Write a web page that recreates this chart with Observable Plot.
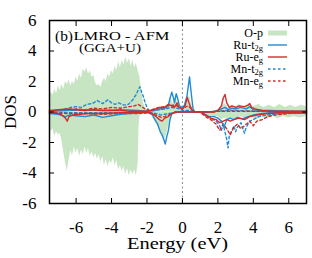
<!DOCTYPE html>
<html><head><meta charset="utf-8">
<script src="https://cdn.jsdelivr.net/npm/d3@7"></script>
<script src="https://cdn.jsdelivr.net/npm/@observablehq/plot@0.6"></script>
<style>body{margin:0;background:#fff}#chart{width:312px;height:258px}</style>
</head><body><div id="chart"></div>
<script>
const xTicks = [-6, -4, -2, 0, 2, 4, 6];
const yTicks = [-6, -4, -2, 0, 2, 4, 6];
const title1 = "(b)";
const title2 = "LMRO - AFM";
const title3 = "(GGA+U)";
const xLabel = "Energy (eV)";
const yLabel = "DOS";
const legendItems = [
  {base: "O-p", sub: ""},
  {base: "Ru-t", sub: "2g"},
  {base: "Ru-e", sub: "g"},
  {base: "Mn-t", sub: "2g"},
  {base: "Mn-e", sub: "g"}
];

const opUp = [[-7.5,1.0],[-7.4,1.3],[-7.3,1.1],[-7.2,1.5],[-7.1,1.2],[-7.0,1.7],[-6.9,1.4],[-6.8,1.8],[-6.7,1.5],[-6.6,2.0],[-6.5,1.8],[-6.4,2.1],[-6.3,1.7],[-6.2,2.0],[-6.1,1.8],[-6.0,2.3],[-5.9,2.0],[-5.8,2.5],[-5.7,2.2],[-5.6,2.8],[-5.5,2.6],[-5.4,2.9],[-5.3,2.5],[-5.2,2.7],[-5.1,2.3],[-5.0,2.4],[-4.9,1.9],[-4.8,1.7],[-4.7,1.8],[-4.6,1.6],[-4.5,2.0],[-4.4,2.2],[-4.3,2.0],[-4.2,2.5],[-4.1,2.3],[-4.0,2.7],[-3.9,2.5],[-3.8,3.0],[-3.7,2.7],[-3.6,3.3],[-3.5,2.9],[-3.4,3.4],[-3.3,3.1],[-3.2,3.6],[-3.1,3.2],[-3.0,3.5],[-2.9,3.0],[-2.8,3.4],[-2.7,2.9],[-2.6,3.2],[-2.5,2.7],[-2.4,2.3],[-2.3,1.4],[-2.2,0.6],[-2.1,0.25],[-2.0,0.1],[-1.8,0.1],[-1.5,0.2],[-1.2,0.3],[-1.0,0.35],[-0.8,0.5],[-0.65,0.9],[-0.5,0.5],[-0.35,0.9],[-0.2,0.3],[0.0,0.25],[0.2,0.5],[0.4,1.1],[0.55,0.3],[0.7,0.05],[1.0,0],[1.5,0],[1.8,0.05],[2.0,0.15],[2.2,0.35],[2.4,0.55],[2.6,0.3],[2.8,0.45],[3.0,0.3],[3.2,0.5],[3.5,0.3],[3.8,0.55],[4.0,0.35],[4.3,0.5],[4.6,0.3],[4.9,0.45],[5.2,0.3],[5.5,0.5],[5.8,0.3],[6.1,0.45],[6.4,0.3],[6.7,0.45],[7.0,0.35]];
const opDown = [[-7.5,-0.9],[-7.4,-1.3],[-7.3,-1.1],[-7.2,-1.6],[-7.1,-1.3],[-7.0,-1.5],[-6.9,-1.4],[-6.8,-1.9],[-6.7,-2.6],[-6.6,-3.3],[-6.5,-3.9],[-6.4,-3.2],[-6.3,-2.5],[-6.2,-2.9],[-6.1,-2.3],[-6.0,-2.7],[-5.9,-2.4],[-5.8,-2.9],[-5.7,-2.5],[-5.6,-2.8],[-5.5,-2.3],[-5.4,-2.7],[-5.3,-2.4],[-5.2,-2.9],[-5.1,-2.6],[-5.0,-3.0],[-4.9,-2.7],[-4.8,-3.1],[-4.7,-2.8],[-4.6,-3.3],[-4.5,-2.9],[-4.4,-3.5],[-4.3,-3.1],[-4.2,-3.6],[-4.1,-3.2],[-4.0,-3.4],[-3.9,-3.0],[-3.8,-3.5],[-3.7,-3.2],[-3.6,-3.8],[-3.5,-3.5],[-3.4,-3.9],[-3.3,-3.6],[-3.2,-4.1],[-3.1,-3.7],[-3.0,-4.2],[-2.9,-3.8],[-2.8,-4.1],[-2.7,-3.8],[-2.6,-4.2],[-2.5,-3.4],[-2.45,-1.0],[-2.4,-0.3],[-2.2,-0.1],[-2.0,-0.05],[-1.8,-0.1],[-1.6,-0.5],[-1.4,-0.9],[-1.2,-1.3],[-1.0,-1.8],[-0.9,-1.5],[-0.8,-1.0],[-0.6,-0.3],[-0.4,-0.1],[0,0],[1.0,0],[1.3,-0.2],[1.6,-0.3],[2.0,-0.3],[2.2,-0.5],[2.4,-0.4],[2.6,-0.6],[2.8,-0.4],[3.0,-0.5],[3.3,-0.3],[3.6,-0.5],[3.9,-0.3],[4.2,-0.5],[4.5,-0.3],[4.8,-0.45],[5.1,-0.3],[5.4,-0.45],[5.7,-0.3],[6.0,-0.4],[6.3,-0.3],[6.6,-0.4],[7.0,-0.3]];

const ruT2gUp = [[-7.5,0.05],[-6.5,0.1],[-5.5,0.15],[-4.5,0.1],[-3.5,0.15],[-2.5,0.1],[-2.0,0.05],[-1.6,0.1],[-1.3,0.2],[-1.0,0.25],[-0.8,0.4],[-0.7,0.9],[-0.6,1.3],[-0.5,0.9],[-0.45,0.6],[-0.35,1.2],[-0.25,0.8],[-0.17,0.4],[-0.05,0.3],[0.1,0.4],[0.25,1.0],[0.4,2.3],[0.5,1.2],[0.6,0.2],[0.7,0.0],[1.0,0.0],[1.5,0.0],[1.8,0.05],[2.0,0.1],[2.2,0.2],[2.4,0.3],[2.6,0.15],[2.8,0.25],[3.0,0.2],[3.3,0.3],[3.6,0.2],[3.8,0.35],[4.0,0.15],[4.5,0.1],[5,0.1],[6,0.05],[7,0.05]];
const ruT2gDown = [[-7.5,-0.1],[-7.0,-0.15],[-6.6,-0.3],[-6.4,-0.2],[-6.0,-0.25],[-5.5,-0.3],[-5.0,-0.2],[-4.5,-0.35],[-4.0,-0.25],[-3.5,-0.15],[-3.0,-0.1],[-2.5,-0.05],[-2.0,-0.02],[-1.75,-0.05],[-1.6,-0.4],[-1.4,-0.8],[-1.25,-1.3],[-1.15,-1.5],[-1.05,-1.8],[-0.97,-2.1],[-0.88,-1.6],[-0.8,-1.25],[-0.7,-0.5],[-0.6,-0.1],[-0.4,0],[0,0],[1.0,0],[1.2,-0.1],[1.5,-0.3],[1.8,-0.3],[2.0,-0.4],[2.2,-0.6],[2.35,-1.0],[2.5,-0.5],[2.7,-0.4],[2.9,-0.5],[3.1,-0.35],[3.4,-0.45],[3.7,-0.3],[4.0,-0.2],[4.5,-0.1],[5,-0.05],[6,-0.05],[7,-0.05]];
const ruEgUp = [[-7.5,0.1],[-7.0,0.15],[-6.5,0.2],[-6.0,0.15],[-5.5,0.1],[-5.0,0.15],[-4.5,0.1],[-4.0,0.1],[-3.5,0.1],[-3.0,0.05],[-2.5,0.05],[-2.0,0.05],[-1.6,0.15],[-1.3,0.3],[-1.0,0.3],[-0.8,0.5],[-0.6,0.4],[-0.45,0.3],[-0.3,0.6],[-0.2,0.3],[0,0.2],[0.15,0.4],[0.27,0.95],[0.4,0.5],[0.55,0.1],[0.7,0],[1.8,0],[2.0,0.1],[2.2,0.4],[2.3,0.9],[2.4,1.15],[2.5,0.6],[2.65,0.3],[2.8,0.4],[3.0,0.3],[3.2,0.4],[3.5,0.35],[3.7,0.45],[3.8,0.55],[3.9,0.3],[4.1,0.2],[4.5,0.1],[5,0.05],[6,0.05],[7,0.05]];
const ruEgDown = [[-7.5,-0.05],[-7.0,-0.1],[-6.8,-0.2],[-6.6,-0.4],[-6.5,-0.6],[-6.4,-0.3],[-6.2,-0.2],[-5.8,-0.15],[-5.3,-0.1],[-4.5,-0.1],[-3.5,-0.05],[-2.5,-0.05],[-2.0,-0.02],[-1.7,-0.1],[-1.5,-0.3],[-1.3,-0.5],[-1.15,-0.6],[-1.0,-0.4],[-0.8,-0.3],[-0.6,-0.1],[-0.4,0],[1.0,0],[1.3,-0.2],[1.6,-0.4],[1.9,-0.5],[2.1,-0.7],[2.3,-0.6],[2.5,-0.5],[2.7,-0.6],[2.9,-0.5],[3.2,-0.4],[3.5,-0.5],[3.8,-0.3],[4.2,-0.2],[4.8,-0.1],[5.5,-0.05],[7,-0.05]];
const mnT2gUp = [[-7.5,0.05],[-7.0,0.1],[-6.6,0.2],[-6.3,0.3],[-6.0,0.35],[-5.7,0.3],[-5.4,0.5],[-5.1,0.55],[-4.8,0.75],[-4.5,0.55],[-4.2,0.8],[-4.0,0.6],[-3.8,0.5],[-3.6,0.6],[-3.3,0.45],[-3.05,0.5],[-2.8,0.8],[-2.7,1.0],[-2.6,1.15],[-2.5,1.45],[-2.4,1.65],[-2.3,1.3],[-2.2,1.0],[-2.1,0.6],[-2.0,0.3],[-1.9,0.1],[-1.6,0.1],[-1.3,0.15],[-1.0,0.2],[-0.6,0.3],[-0.3,0.25],[0,0.1],[0.4,0.1],[0.7,0],[1.5,0],[2.0,0.05],[2.5,0.1],[3.0,0.1],[4,0.05],[5,0.05],[7,0.02]];
const mnT2gDown = [[-7.5,-0.02],[-6,-0.05],[-4,-0.05],[-2.5,-0.05],[-2.0,-0.02],[-1.5,-0.1],[-1.2,-0.2],[-1.0,-0.15],[-0.5,-0.05],[0,0],[1.0,0],[1.3,-0.2],[1.6,-0.4],[1.9,-0.6],[2.1,-0.9],[2.2,-1.2],[2.3,-0.8],[2.4,-1.3],[2.5,-1.8],[2.57,-2.35],[2.65,-1.5],[2.8,-1.2],[2.9,-0.9],[3.0,-1.3],[3.1,-1.0],[3.3,-0.7],[3.5,-1.4],[3.6,-1.0],[3.8,-0.6],[4.0,-0.5],[4.3,-0.3],[4.8,-0.2],[5.5,-0.1],[7,-0.05]];
const mnEgUp = [[-7.5,0.05],[-7.0,0.1],[-6.5,0.15],[-6.0,0.2],[-5.5,0.15],[-5.0,0.25],[-4.5,0.2],[-4.0,0.3],[-3.5,0.25],[-3.0,0.35],[-2.7,0.4],[-2.5,0.5],[-2.3,0.35],[-2.1,0.2],[-1.9,0.1],[-1.6,0.2],[-1.3,0.3],[-1.0,0.35],[-0.8,0.4],[-0.5,0.45],[-0.3,0.4],[0,0.2],[0.3,0.4],[0.5,0.2],[0.7,0],[1.5,0],[2,0.05],[3,0.05],[4,0.05],[7,0.02]];
const mnEgDown = [[-7.5,-0.05],[-6.5,-0.1],[-5.5,-0.1],[-4.5,-0.15],[-3.5,-0.1],[-2.5,-0.1],[-2.0,-0.05],[-1.5,-0.2],[-1.2,-0.35],[-1.0,-0.3],[-0.7,-0.15],[-0.4,0],[1.0,0],[1.3,-0.3],[1.6,-0.5],[1.9,-0.8],[2.1,-1.2],[2.3,-0.8],[2.5,-1.1],[2.7,-1.5],[2.9,-1.0],[3.1,-0.8],[3.3,-1.1],[3.6,-0.8],[3.8,-0.6],[4.0,-0.9],[4.2,-0.6],[4.5,-0.5],[4.8,-0.3],[5.2,-0.2],[6,-0.1],[7,-0.05]];

const GREEN = "#c8e5c3", BLUE = "#1f8bd6", RED = "#d62a2a";
const rows = a => a.map(([e, d]) => ({e, d}));
const lineOpts = (stroke, dashed) => ({x: "e", y: "d", stroke, strokeWidth: 1.4, strokeDasharray: dashed ? "2.5,2.5" : null});
const FF = "'Liberation Serif', 'Times New Roman', serif";

const plot = Plot.plot({
  width: 312, height: 258,
  marginLeft: 49, marginRight: 6, marginTop: 20, marginBottom: 55,
  style: {fontFamily: FF, fontSize: "17px", color: "black", background: "white"},
  x: {domain: [-7.5, 7]},
  y: {domain: [-6, 6]},
  marks: [
    Plot.areaY(rows(opUp), {x: "e", y: "d", fill: GREEN}),
    Plot.areaY(rows(opDown), {x: "e", y: "d", fill: GREEN}),
    Plot.ruleX([0], {stroke: "#888", strokeWidth: 1, strokeDasharray: "2,2.5"}),
    Plot.line(rows(mnT2gUp), lineOpts(BLUE, true)),
    Plot.line(rows(mnT2gDown), lineOpts(BLUE, true)),
    Plot.line(rows(mnEgUp), lineOpts(RED, true)),
    Plot.line(rows(mnEgDown), lineOpts(RED, true)),
    Plot.line(rows(ruT2gUp), lineOpts(BLUE, false)),
    Plot.line(rows(ruT2gDown), lineOpts(BLUE, false)),
    Plot.line(rows(ruEgUp), lineOpts(RED, false)),
    Plot.line(rows(ruEgDown), lineOpts(RED, false)),
    Plot.axisX({anchor: "bottom", ticks: xTicks, tickSize: -5, tickPadding: 22, label: null, tickFormat: d => String(d), fontSize: 17}),
    Plot.axisX({anchor: "top", ticks: xTicks, tickSize: -5, label: null, tickFormat: () => ""}),
    Plot.axisY({anchor: "left", ticks: yTicks, tickSize: -5, tickPadding: 18, label: null, tickFormat: d => String(d), fontSize: 17}),
    Plot.axisY({anchor: "right", ticks: yTicks, tickSize: -5, label: null, tickFormat: () => ""}),
    Plot.frame({stroke: "black", strokeWidth: 1.5})
  ]
});
document.getElementById("chart").appendChild(plot);

const svg = d3.select(plot);
// text placed at (x, y) baseline, stretched horizontally to the target width
function stretchedText(str, x, y, size, anchor, targetWidth) {
  const t = svg.append("text").attr("text-anchor", anchor).attr("font-family", FF)
    .attr("font-size", size).text(str);
  const w = t.node().getComputedTextLength();
  const sx = targetWidth && w > 0 ? targetWidth / w : 1;
  t.attr("transform", `translate(${x},${y}) scale(${sx},1)`);
  return t;
}
svg.append("text").attr("transform", "translate(12,112) rotate(-90)").attr("text-anchor", "middle")
  .attr("dominant-baseline", "middle").attr("font-family", FF).attr("font-size", 17).text(yLabel);
stretchedText(xLabel, 177.5, 248.5, 16, "middle", 101);
stretchedText(title1, 55, 40.5, 15, "start", 18);
stretchedText(title2, 73.5, 40, 13.5, "start", 96);
stretchedText(title3, 79, 51.5, 13, "start", 62);

const legendStyles = [
  {type: "area", color: GREEN},
  {type: "line", color: BLUE, dash: null},
  {type: "line", color: RED, dash: null},
  {type: "line", color: BLUE, dash: "2.5,2.5"},
  {type: "line", color: RED, dash: "2.5,2.5"}
];
legendItems.forEach((it, i) => {
  const cy = 33 + i * 12;
  const t = svg.append("text").attr("x", 263).attr("y", cy + 3.5).attr("text-anchor", "end")
    .attr("font-family", FF).attr("font-size", 12);
  t.append("tspan").text(it.base);
  if (it.sub) t.append("tspan").attr("dy", 2.5).attr("font-size", 8.5).text(it.sub);
  const s = legendStyles[i];
  if (s.type === "area") {
    svg.append("rect").attr("x", 268).attr("y", cy - 2.5).attr("width", 19).attr("height", 5).attr("fill", s.color);
  } else {
    svg.append("line").attr("x1", 268).attr("x2", 287).attr("y1", cy).attr("y2", cy)
      .attr("stroke", s.color).attr("stroke-width", 1.4).attr("stroke-dasharray", s.dash);
  }
});
</script></body></html>
